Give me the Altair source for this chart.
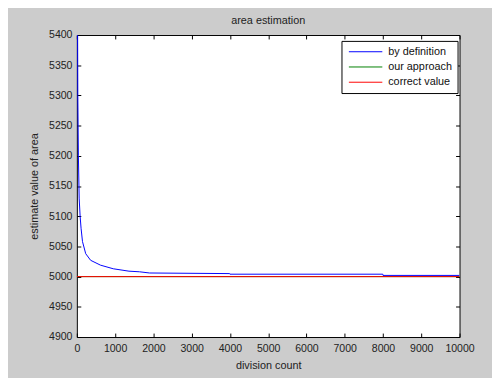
import altair as alt
import pandas as pd

# Series data
def_x = [1, 15, 25, 40, 60, 85, 110, 147, 231, 360, 617, 951, 1362, 1637, 1900, 3993, 4000, 7995, 8000, 10000]
def_y = [10000, 5500, 5300, 5200, 5130, 5100, 5080, 5058, 5038, 5027, 5019, 5013, 5009, 5008, 5006, 5005, 5004, 5004, 5002, 5002]
our_x = [1, 10000]
our_y = [5000, 5000]
cor_x = [1, 10000]
cor_y = [5000, 5000]

series_names = ["by definition", "our approach", "correct value"]
series_colors = ["#0000ff", "#008000", "#ff0000"]

x_ticks = list(range(0, 10001, 1000))
y_ticks = list(range(4900, 5401, 50))

df_def = pd.DataFrame({"x": def_x, "y": def_y, "series": series_names[0]})
df_our = pd.DataFrame({"x": our_x, "y": our_y, "series": series_names[1]})
df_cor = pd.DataFrame({"x": cor_x, "y": cor_y, "series": series_names[2]})

FONT = "Liberation Sans"
xscale = alt.Scale(domain=[0, 10000], nice=False, zero=False)
yscale = alt.Scale(domain=[4900, 5400], nice=False, zero=False)
color = alt.Color(
    "series:N",
    scale=alt.Scale(domain=series_names, range=series_colors),
    legend=alt.Legend(
        title=None,
        orient="none",
        legendX=269,
        legendY=6,
        symbolType="M-0.7,0H6.1",
        symbolSize=100,
        symbolStrokeWidth=1,
        symbolFillColor="transparent",
        rowPadding=3.5,
        labelFontSize=11,
        labelFont=FONT,
        labelColor="#111",
        labelOffset=31,
        strokeColor="#000",
        fillColor="#ffffff",
        padding=5.5,
        offset=0,
    ),
)

tick_axis = dict(labels=False, domain=False, ticks=True, tickSize=4, tickColor="#000",
                 grid=False, title=None, offset=-4)

label_x_axis = alt.Axis(values=x_ticks, orient="bottom", ticks=False, domain=False, grid=False,
                        format="d",
                        labelFontSize=10.7, labelFont=FONT, labelColor="#222", labelPadding=7,
                        title="division count", titleFont=FONT, titleFontSize=11,
                        titleFontWeight="normal", titleColor="#222", titlePadding=6, labelFlush=False)
label_y_axis = alt.Axis(values=y_ticks, orient="left", ticks=False, domain=False, grid=False,
                        format="d",
                        labelFontSize=10.7, labelFont=FONT, labelColor="#222", labelPadding=5,
                        title="estimate value of area", titleFont=FONT, titleFontSize=11,
                        titleFontWeight="normal", titleColor="#222", titlePadding=9)

l_def = alt.Chart(df_def).mark_line(clip=True, strokeWidth=1).encode(
    x=alt.X("x:Q", scale=xscale, axis=label_x_axis),
    y=alt.Y("y:Q", scale=yscale, axis=label_y_axis),
    color=color,
)
l_our = alt.Chart(df_our).mark_line(clip=True, strokeWidth=1).encode(
    x=alt.X("x:Q", scale=xscale, axis=alt.Axis(values=x_ticks, orient="bottom", **tick_axis)),
    y=alt.Y("y:Q", scale=yscale, axis=alt.Axis(values=y_ticks, orient="left", **tick_axis)),
    color=color,
)
l_cor = alt.Chart(df_cor).mark_line(clip=True, strokeWidth=1).encode(
    x=alt.X("x:Q", scale=xscale, axis=alt.Axis(values=x_ticks, orient="top", **tick_axis)),
    y=alt.Y("y:Q", scale=yscale, axis=alt.Axis(values=y_ticks, orient="right", **tick_axis)),
    color=color,
)

chart = (
    alt.layer(l_def, l_our, l_cor)
    .resolve_axis(x="independent", y="independent")
    .properties(
        width=389,
        height=307,
        autosize=alt.AutoSizeParams(type="none"),
        padding={"left": 70, "top": 24.4, "right": 33, "bottom": 38.6},
        background="#cccccc",
        title=alt.TitleParams("area estimation", font=FONT, fontSize=11, fontWeight="normal",
                              color="#222", anchor="middle", offset=3),
    )
    .configure_view(stroke="#000", strokeWidth=1, fill="#ffffff")
)

chart.save("out.html", embed_options={"renderer": "svg", "actions": False})
